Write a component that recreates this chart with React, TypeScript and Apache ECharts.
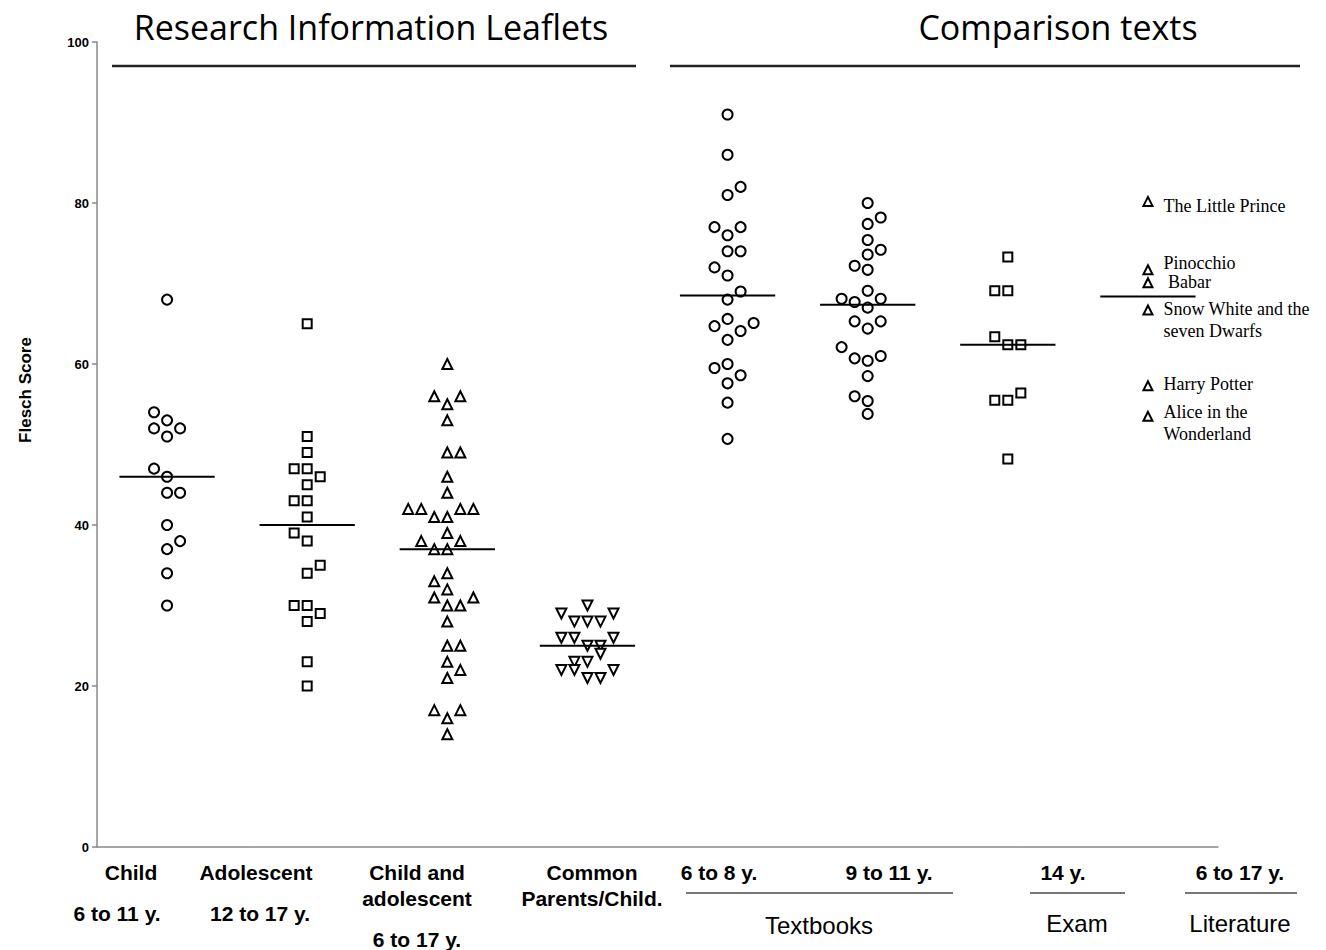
import React, { useEffect, useRef } from "react";
import * as echarts from "echarts";

// ---- data ----
const categories = ["Child", "Adolescent", "Child and adolescent", "Common Parents/Child.", "6 to 8 y.", "9 to 11 y.", "14 y.", "6 to 17 y."];

const childValues = [68, 54, 53, 52, 52, 51, 47, 46, 44, 44, 40, 38, 37, 34, 30];
const childCols = [0, -1, 0, -1, 1, 0, -1, 0, 0, 1, 0, 1, 0, 0, 0];

const adolValues = [65, 51, 49, 47, 47, 46, 45, 43, 43, 41, 39, 38, 35, 34, 30, 30, 29, 28, 23, 20];
const adolCols = [0, 0, 0, -1, 0, 1, 0, -1, 0, 0, -1, 0, 1, 0, -1, 0, 1, 0, 0, 0];

const bothValues = [60, 56, 56, 55, 53, 49, 49, 46, 44, 42, 42, 42, 42, 41, 41, 39, 38, 38, 37, 37, 34, 33, 32, 31, 31, 30, 30, 28, 25, 25, 23, 22, 21, 17, 17, 16, 14];
const bothCols = [0, -1, 1, 0, 0, 0, 1, 0, 0, -3, -2, 1, 2, -1, 0, 0, -2, 1, -1, 0, 0, -1, 0, -1, 2, 0, 1, 0, 0, 1, 0, 1, 0, -1, 1, 0, 0];

const commonValues = [30, 29, 29, 28, 28, 28, 26, 26, 26, 25, 25, 24, 23, 23, 22, 22, 22, 21, 21];
const commonCols = [0, -2, 2, -1, 0, 1, -2, -1, 2, 0, 1, 1, -1, 0, -2, -1, 2, 0, 1];

const tb68Values = [91, 86, 82, 81, 77, 77, 76, 74, 74, 72, 71, 69, 68, 65.6, 64.7, 65.1, 64.1, 63, 60, 59.5, 58.6, 57.6, 55.2, 50.7];
const tb68Cols = [0, 0, 1, 0, -1, 1, 0, 0, 1, -1, 0, 1, 0, 0, -1, 2, 1, 0, 0, -1, 1, 0, 0, 0];

const tb911Values = [80, 78.2, 77.4, 75.4, 74.2, 73.6, 72.2, 71.7, 69.1, 68.1, 68.1, 67.7, 67.0, 65.3, 65.3, 64.4, 62.1, 61.0, 60.7, 60.4, 58.5, 56.0, 55.4, 53.8];
const tb911Cols = [0, 1, 0, 0, 1, 0, -1, 0, 0, -2, 1, -1, 0, -1, 1, 0, -2, 1, -1, 0, 0, -1, 0, 0];

const examValues = [73.3, 69.1, 69.1, 63.4, 62.4, 62.4, 56.4, 55.5, 55.5, 48.2];
const examCols = [0, -1, 0, -1, 0, 1, 1, -1, 0, 0];

const litTitles = ["The Little Prince", "Pinocchio", " Babar", "Snow White and the\nseven Dwarfs", "Harry Potter", "Alice in the\nWonderland"];
const litValues = [80.2, 71.7, 70.1, 66.7, 57.3, 53.5];
const litCols = [0, 0, 0, 0, 0, 0];
const litLabelDy = [6, -5, 1, 0, 0, -3];

const yTicks = [0, 20, 40, 60, 80, 100];

const COL = 0.093;
const HALF = 0.34;

function median(a: number[]) {
  const s = [...a].sort((x, y) => x - y);
  const n = s.length;
  return n % 2 ? s[(n - 1) / 2] : (s[n / 2 - 1] + s[n / 2]) / 2;
}

const groups = [
  { values: childValues, cols: childCols, symbol: "circle", size: 10, rotate: 0 },
  { values: adolValues, cols: adolCols, symbol: "rect", size: 9, rotate: 0 },
  { values: bothValues, cols: bothCols, symbol: "triangle", size: 10, rotate: 0 },
  { values: commonValues, cols: commonCols, symbol: "triangle", size: 10, rotate: 180 },
  { values: tb68Values, cols: tb68Cols, symbol: "circle", size: 10, rotate: 0 },
  { values: tb911Values, cols: tb911Cols, symbol: "circle", size: 10, rotate: 0 },
  { values: examValues, cols: examCols, symbol: "rect", size: 9, rotate: 0 },
  { values: litValues, cols: litCols, symbol: "triangle", size: 9, rotate: 0 },
];

const SANS = "Liberation Sans, Arial, sans-serif";
const SERIF = "Liberation Serif, Times New Roman, serif";

function txt(text: string, x: number, y: number, size: number, bold = true, family = SANS) {
  return {
    type: "text",
    x,
    y,
    style: { text, fontSize: size, fontWeight: bold ? "bold" : "normal", fontFamily: family, fill: "#000", align: "center", verticalAlign: "middle" },
  };
}
function ln(x1: number, y1: number, x2: number, y2: number, w = 2, c = "#222") {
  return { type: "line", shape: { x1, y1, x2, y2 }, style: { stroke: c, lineWidth: w } };
}

export default function App() {
  const ref = useRef<HTMLDivElement>(null);
  useEffect(() => {
    if (!ref.current) return;
    const chart = echarts.init(ref.current, undefined, { renderer: "svg" });
    const series: any[] = [];
    groups.forEach((g, gi) => {
      const xc = gi + 1;
      const isLit = gi === 7;
      series.push({
        type: "scatter",
        name: categories[gi],
        symbol: g.symbol,
        symbolSize: g.size,
        symbolRotate: g.rotate,
        itemStyle: { color: "#fff", borderColor: "#000", borderWidth: 2, opacity: 1 },
        data: g.values.map((v, i) =>
          isLit
            ? { value: [xc + g.cols[i] * COL, v], label: { position: [21, -7 + litLabelDy[i]] } }
            : [xc + g.cols[i] * COL, v]
        ),
        label: isLit
          ? {
              show: true,
              formatter: (p: any) => litTitles[p.dataIndex],
              align: "left",
              verticalAlign: "top",
              fontFamily: SERIF,
              fontSize: 18,
              lineHeight: 22,
              color: "#000",
            }
          : { show: false },
        emphasis: { disabled: true },
        z: 3,
      });
      const m = median(g.values);
      series.push({
        type: "line",
        data: [
          [xc - HALF, m],
          [xc + HALF, m],
        ],
        symbol: "none",
        lineStyle: { color: "#000", width: 2 },
        silent: true,
        z: 4,
      });
    });

    chart.setOption({
      animation: false,
      backgroundColor: "#fff",
      grid: { left: 97, right: 108, top: 42, bottom: 103, containLabel: false },
      xAxis: {
        type: "value",
        min: 0.5,
        max: 8.5,
        axisLine: { show: true, onZero: false, lineStyle: { color: "#888", width: 1.5 } },
        axisTick: { show: false },
        axisLabel: { show: false },
        splitLine: { show: false },
      },
      yAxis: {
        type: "value",
        min: yTicks[0],
        max: yTicks[yTicks.length - 1],
        interval: 20,
        axisLine: { show: true, lineStyle: { color: "#888", width: 1.5 } },
        axisTick: { show: true, length: 5, lineStyle: { color: "#888", width: 1.5 } },
        axisLabel: { color: "#000", fontWeight: "bold", fontSize: 13, fontFamily: SANS, margin: 8 },
        splitLine: { show: false },
      },
      series,
      graphic: [
        {
          type: "text",
          x: 25,
          y: 390,
          rotation: Math.PI / 2,
          style: { text: "Flesch Score", fontSize: 17, fontWeight: "bold", fontFamily: SANS, fill: "#000", align: "center", verticalAlign: "middle" },
        },
        txt("Research Information Leaflets", 371, 27, 34, false, "Open Sans, sans-serif"),
        txt("Comparison texts", 1058, 27, 34, false, "Open Sans, sans-serif"),
        ln(112, 66, 636, 66, 2.5),
        ln(670, 66, 1300, 66, 2.5),
        txt("Child", 131, 872, 21),
        txt("6 to 11 y.", 117, 913, 21),
        txt("Adolescent", 256, 872, 21),
        txt("12 to 17 y.", 260, 913, 21),
        txt("Child and", 417, 872, 21),
        txt("adolescent", 417, 898, 21),
        txt("6 to 17 y.", 417, 939, 21),
        txt("Common", 592, 872, 21),
        txt("Parents/Child.", 592, 898, 21),
        txt("6 to 8 y.", 719, 872, 21),
        txt("9 to 11 y.", 889, 872, 21),
        txt("14 y.", 1063, 872, 21),
        txt("6 to 17 y.", 1240, 872, 21),
        ln(686, 893, 953, 893, 2, "#777"),
        ln(1030, 893, 1125, 893, 2, "#777"),
        ln(1185, 893, 1297, 893, 2, "#777"),
        txt("Textbooks", 819, 925, 24, false),
        txt("Exam", 1077, 923, 24, false),
        txt("Literature", 1240, 923, 24, false),
      ],
    });
    return () => chart.dispose();
  }, []);
  return <div ref={ref} style={{ position: "absolute", left: 0, top: 0, width: 1326, height: 950 }} />;
}
